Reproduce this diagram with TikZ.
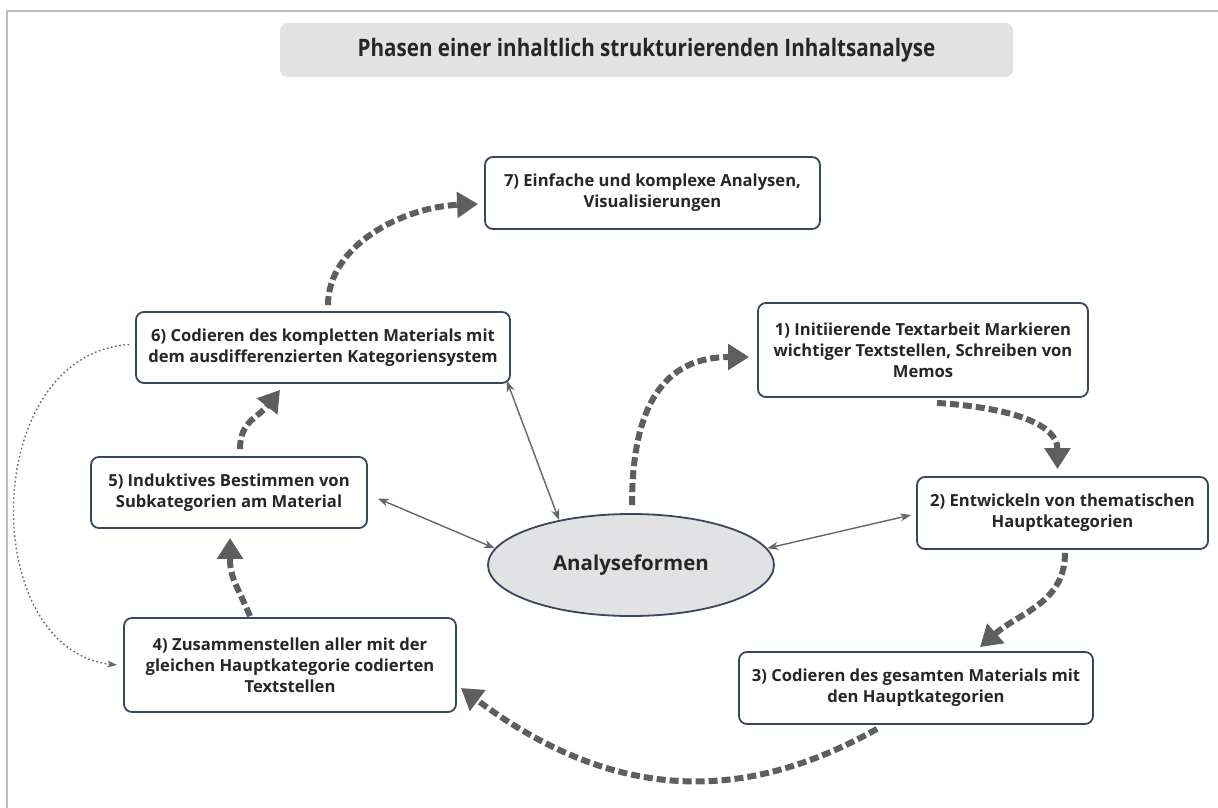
\documentclass[tikz,border=0pt]{standalone}
\usepackage{fontspec}
\setmainfont{Open Sans}
\newfontfamily\titlefont[FakeStretch=0.86]{Open Sans}
\usetikzlibrary{arrows.meta,shapes.geometric}

\definecolor{framegray}{HTML}{BDBDBD}
\definecolor{titlefill}{HTML}{E2E2E2}
\definecolor{boxline}{HTML}{3A465E}
\definecolor{ellfill}{HTML}{E2E2E4}
\definecolor{flowgray}{HTML}{5E5E5E}
\definecolor{linkgray}{HTML}{666666}
\definecolor{txt}{HTML}{262626}

\tikzset{
  phase/.style={draw=boxline, line width=1.8pt, fill=white, rounded corners=8pt,
    align=center, inner sep=0pt, text=txt, font=\fontsize{16.6}{21}\selectfont\bfseries},
  flow/.style={draw=flowgray, line width=6pt, dash pattern=on 9pt off 4pt,
    -{Triangle[length=21pt,width=25pt]}},
  link/.style={draw=linkgray, line width=1.4pt,
    {Stealth[length=11pt,width=8pt]}-{Stealth[length=11pt,width=8pt]}},
  backlink/.style={draw=linkgray, line width=1.4pt, dash pattern=on 1.6pt off 2.6pt,
    -{Stealth[length=10pt,width=7pt]}}
}

\begin{document}
\begin{tikzpicture}[x=1pt,y=-1pt]
\useasboundingbox (0,0) rectangle (1218,808);
\fill[white] (0,0) rectangle (1218,808);

% frame lines along the top and the left side
\draw[framegray, line width=2.2pt] (1218,11) -- (7,11) -- (7,808);

% title bar
\node[fill=titlefill, rounded corners=8pt, minimum width=733pt, minimum height=54pt,
      inner sep=0pt, text=txt, font=\titlefont\fontsize{24}{28}\selectfont\bfseries]
      (title) at (646.5,50) {Phasen einer inhaltlich strukturierenden Inhaltsanalyse};

% centre
\node[ellipse, draw=boxline, line width=1.8pt, fill=ellfill, minimum width=286pt,
      minimum height=102pt, inner sep=0pt, text=txt,
      font=\fontsize{20.5}{24}\selectfont\bfseries] (ell) at (631,565) {Analyseformen};

% phases
\node[phase, minimum width=335pt, minimum height=72pt] (b7) at (652.5,193)
  {7) Einfache und komplexe Analysen,\\Visualisierungen};
\node[phase, minimum width=374pt, minimum height=71pt] (b6) at (323,347.5)
  {6) Codieren des kompletten Materials mit\\dem ausdifferenzierten Kategoriensystem};
\node[phase, minimum width=330pt, minimum height=94pt] (b1) at (923,350)
  {1) Initiierende Textarbeit Markieren\\wichtiger Textstellen, Schreiben von\\Memos};
\node[phase, minimum width=276pt, minimum height=71pt] (b5) at (229,492.5)
  {5) Induktives Bestimmen von\\Subkategorien am Material};
\node[phase, minimum width=291pt, minimum height=72pt] (b2) at (1062.5,513)
  {2) Entwickeln von thematischen\\Hauptkategorien};
\node[phase, minimum width=332pt, minimum height=94pt] (b4) at (290,665)
  {4) Zusammenstellen aller mit der\\gleichen Hauptkategorie codierten\\Textstellen};
\node[phase, minimum width=354pt, minimum height=72pt] (b3) at (916,688)
  {3) Codieren des gesamten Materials mit\\den Hauptkategorien};

% the cycle of phases
\draw[flow] ([xshift=1pt,yshift=8pt]ell.north) .. controls +(0,-100) and +(-85,0) .. ([xshift=-8pt,yshift=-7pt]b1.west);
\draw[flow] ([xshift=14pt,yshift=-5pt]b1.south) .. controls +(75,5) and +(0,-45) .. ([xshift=-5pt,yshift=7pt]b2.north);
\draw[flow] ([xshift=2.5pt,yshift=-3pt]b2.south) .. controls +(0,50) and +(40,-35) .. ([xshift=64pt,yshift=4pt]b3.north);
\draw[flow] ([xshift=-39pt,yshift=-4pt]b3.south) .. controls +(-137,77) and +(150,112) .. ([xshift=4pt,yshift=-23pt]b4.east);
\draw[flow] ([xshift=-40pt,yshift=1pt]b4.north) .. controls +(-15,-35) and +(0,40) .. ([xshift=1pt,yshift=-9pt]b5.south);
\draw[flow] ([xshift=11pt,yshift=7pt]b5.north) .. controls +(0,-28) and +(-22,28) .. ([xshift=-43pt,yshift=-6pt]b6.south);
\draw[flow] ([xshift=5pt,yshift=6pt]b6.north) .. controls +(0,-60) and +(-75,3) .. ([xshift=-6pt,yshift=-11pt]b7.west);

% links to the centre
\draw[link] ([xshift=-4pt,yshift=3pt]b6.south east) -- (ell.148);
\draw[link] ([xshift=10pt,yshift=-6pt]b5.east) -- (ell.173);
\draw[link] (ell.7) -- ([xshift=-5pt,yshift=-2pt]b2.west);

% from phase 6 back to phase 4
\draw[backlink] ([xshift=-6pt,yshift=3pt]b6.west) .. controls +(-150,10) and +(-140,-15) .. ([xshift=-6pt]b4.west);
\end{tikzpicture}
\end{document}
